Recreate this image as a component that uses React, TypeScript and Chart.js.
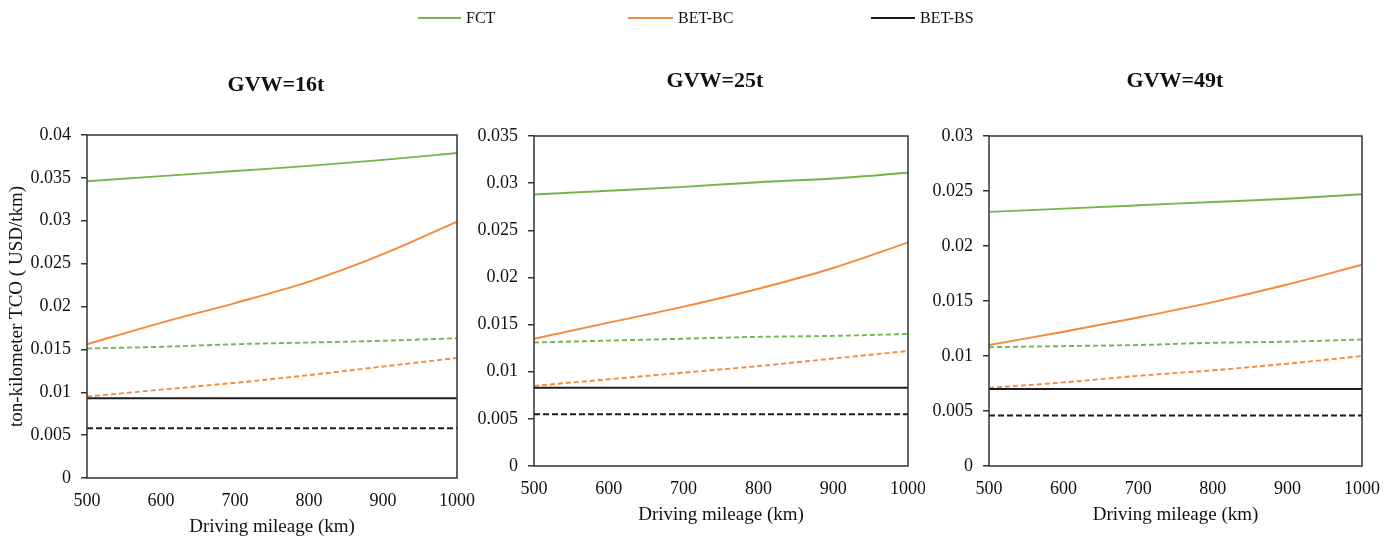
import React, { useEffect, useRef } from "react";
import { Chart, registerables } from "chart.js";

Chart.register(...registerables);

// ---- Data ----
const mileage = [500, 600, 700, 800, 900, 1000];

// GVW = 16t
const fct16 = [0.0346, 0.0352, 0.0358, 0.0364, 0.0371, 0.0379];
const bc16 = [0.0156, 0.0181, 0.0204, 0.0229, 0.0261, 0.0299];
const bs16 = [0.0093, 0.0093, 0.0093, 0.0093, 0.0093, 0.0093];
const fctD16 = [0.0151, 0.0153, 0.0156, 0.0158, 0.016, 0.0163];
const bcD16 = [0.0095, 0.0103, 0.0111, 0.012, 0.013, 0.014];
const bsD16 = [0.0058, 0.0058, 0.0058, 0.0058, 0.0058, 0.0058];

// GVW = 25t
const fct25 = [0.0288, 0.0292, 0.0296, 0.0301, 0.0305, 0.0311];
const bc25 = [0.0135, 0.0152, 0.0169, 0.0188, 0.021, 0.0237];
const bs25 = [0.0083, 0.0083, 0.0083, 0.0083, 0.0083, 0.0083];
const fctD25 = [0.0131, 0.0133, 0.0135, 0.0137, 0.0138, 0.014];
const bcD25 = [0.0085, 0.0092, 0.0099, 0.0106, 0.0114, 0.0122];
const bsD25 = [0.0055, 0.0055, 0.0055, 0.0055, 0.0055, 0.0055];

// GVW = 49t
const fct49 = [0.0231, 0.0234, 0.0237, 0.024, 0.0243, 0.0247];
const bc49 = [0.011, 0.0122, 0.0135, 0.0149, 0.0165, 0.0183];
const bs49 = [0.007, 0.007, 0.007, 0.007, 0.007, 0.007];
const fctD49 = [0.0108, 0.0109, 0.011, 0.0112, 0.0113, 0.0115];
const bcD49 = [0.0071, 0.0076, 0.0082, 0.0087, 0.0093, 0.01];
const bsD49 = [0.0046, 0.0046, 0.0046, 0.0046, 0.0046, 0.0046];

const legendLabels = ["FCT", "BET-BC", "BET-BS"];
const panelTitles = ["GVW=16t", "GVW=25t", "GVW=49t"];
const yMaxes = [0.04, 0.035, 0.03];
const xTitle = "Driving mileage (km)";
const yTitle = "ton-kilometer TCO ( USD/tkm)";

// ---- Styles ----
const FONT = "'Times New Roman', 'Liberation Serif', serif";
const GREEN = "#74B54E";
const ORANGE = "#F5893C";
const BLACK = "#1c1c1c";
const H = 537;

type PanelCfg = {
  title: string;
  titleX: number;
  titleY: number;
  left: number;
  width: number;
  plotLeft: number;
  plotRight: number;
  plotTop: number;
  plotBottom: number;
  yMax: number;
  showYTitle: boolean;
  xTitlePad: number;
  series: number[][]; // fct, bc, bs, fctD, bcD, bsD
};

const panels: PanelCfg[] = [
  {
    title: panelTitles[0], titleX: 276, titleY: 85, left: 0, width: 482,
    plotLeft: 87, plotRight: 457, plotTop: 135, plotBottom: 478,
    yMax: yMaxes[0], showYTitle: true, xTitlePad: -1.4,
    series: [fct16, bc16, bs16, fctD16, bcD16, bsD16],
  },
  {
    title: panelTitles[1], titleX: 715, titleY: 81, left: 470, width: 455,
    plotLeft: 534, plotRight: 908, plotTop: 136, plotBottom: 466,
    yMax: yMaxes[1], showYTitle: false, xTitlePad: 10.6,
    series: [fct25, bc25, bs25, fctD25, bcD25, bsD25],
  },
  {
    title: panelTitles[2], titleX: 1175, titleY: 81, left: 920, width: 477,
    plotLeft: 989, plotRight: 1362, plotTop: 136, plotBottom: 466,
    yMax: yMaxes[2], showYTitle: false, xTitlePad: 10.6,
    series: [fct49, bc49, bs49, fctD49, bcD49, bsD49],
  },
];

function Panel({ cfg }: { cfg: PanelCfg }) {
  const ref = useRef<HTMLCanvasElement>(null);

  useEffect(() => {
    if (!ref.current) return;
    const pts = (arr: number[]) => mileage.map((m, i) => ({ x: m, y: arr[i] }));
    const colors = [GREEN, ORANGE, BLACK];
    const datasets = cfg.series.map((s, i) => {
      const dashed = i >= 3;
      const color = colors[i % 3];
      const isBlack = i % 3 === 2;
      return {
        label: legendLabels[i % 3] + (dashed ? " (dashed)" : ""),
        data: pts(s),
        borderColor: color,
        backgroundColor: color,
        borderWidth: isBlack ? 2 : 1.9,
        borderDash: dashed ? (isBlack ? [6, 3] : [5, 3]) : [],
        pointRadius: 0,
        fill: false,
        cubicInterpolationMode: "monotone" as const,
      };
    });

    const framePlugin = {
      id: "frame",
      afterDatasetsDraw(chart: any) {
        const { ctx, chartArea } = chart;
        ctx.save();
        ctx.strokeStyle = "#333";
        ctx.lineWidth = 1.5;
        ctx.strokeRect(chartArea.left, chartArea.top, chartArea.right - chartArea.left, chartArea.bottom - chartArea.top);
        ctx.restore();
      },
    };
    const titlePlugin = {
      id: "panelTitle",
      afterDraw(chart: any) {
        const c = chart.ctx;
        c.save();
        c.font = `bold 22px ${FONT}`;
        c.fillStyle = "#111";
        c.textAlign = "center";
        c.textBaseline = "middle";
        c.fillText(cfg.title, cfg.titleX - cfg.left, cfg.titleY);
        c.restore();
      },
    };

    const chart = new Chart(ref.current, {
      type: "line",
      data: { datasets: datasets as any },
      options: {
        animation: false,
        responsive: false,
        maintainAspectRatio: false,
        layout: {
          padding: {
            left: 0,
            top: cfg.plotTop,
            right: cfg.width - (cfg.plotRight - cfg.left),
            bottom: 0,
          },
        },
        plugins: {
          legend: { display: false },
          tooltip: { enabled: false },
          title: { display: false },
        },
        scales: {
          x: {
            type: "linear",
            min: 500,
            max: 1000,
            ticks: {
              stepSize: 100,
              padding: 12,
              autoSkip: false,
              maxRotation: 0,
              color: "#111",
              font: { family: FONT, size: 18 },
              callback: (v: any) => String(v),
            },
            grid: { display: false, drawTicks: false },
            border: { display: false },
            title: {
              display: true,
              text: xTitle,
              color: "#111",
              font: { family: FONT, size: 19 },
              padding: { top: 0, bottom: cfg.xTitlePad },
            },
            afterFit: (s: any) => {
              s.height = H - cfg.plotBottom;
              s.paddingLeft = 0;
              s.paddingRight = 0;
            },
          },
          y: {
            type: "linear",
            min: 0,
            max: cfg.yMax,
            ticks: {
              stepSize: 0.005,
              padding: 10,
              color: "#111",
              font: { family: FONT, size: 18 },
              callback: (v: any) => String(parseFloat(Number(v).toFixed(3))),
            },
            grid: {
              drawOnChartArea: false,
              drawTicks: true,
              tickLength: 6,
              color: "#333",
              lineWidth: 1.5,
            },
            border: { display: false },
            title: {
              display: cfg.showYTitle,
              text: yTitle,
              color: "#111",
              font: { family: FONT, size: 19 },
              padding: { top: 5.6, bottom: 0 },
            },
            afterFit: (s: any) => {
              s.width = cfg.plotLeft - cfg.left;
              s.paddingTop = 0;
              s.paddingBottom = 0;
            },
          },
        },
      } as any,
      plugins: [framePlugin, titlePlugin],
    });
    return () => chart.destroy();
  }, [cfg]);

  return (
    <canvas
      ref={ref}
      width={cfg.width}
      height={H}
      style={{ position: "absolute", left: cfg.left, top: 0, width: cfg.width, height: H }}
    />
  );
}

const legendItems = [
  { label: legendLabels[0], color: GREEN, x1: 418, x2: 461, tx: 466 },
  { label: legendLabels[1], color: ORANGE, x1: 628, x2: 673, tx: 678 },
  { label: legendLabels[2], color: BLACK, x1: 871, x2: 915, tx: 920 },
];

export default function App() {
  return (
    <div style={{ position: "absolute", left: 0, top: 0, width: 1397, height: H, background: "#fff", overflow: "hidden" }}>
      {panels.map((p, i) => (
        <Panel key={i} cfg={p} />
      ))}
      {legendItems.map((it, i) => (
        <React.Fragment key={i}>
          <div style={{ position: "absolute", left: it.x1, top: 17, width: it.x2 - it.x1, height: 2, background: it.color }} />
          <div style={{ position: "absolute", left: it.tx, top: 8, height: 20, lineHeight: "20px", fontFamily: FONT, fontSize: 16, color: "#111", whiteSpace: "nowrap" }}>
            {it.label}
          </div>
        </React.Fragment>
      ))}
    </div>
  );
}
